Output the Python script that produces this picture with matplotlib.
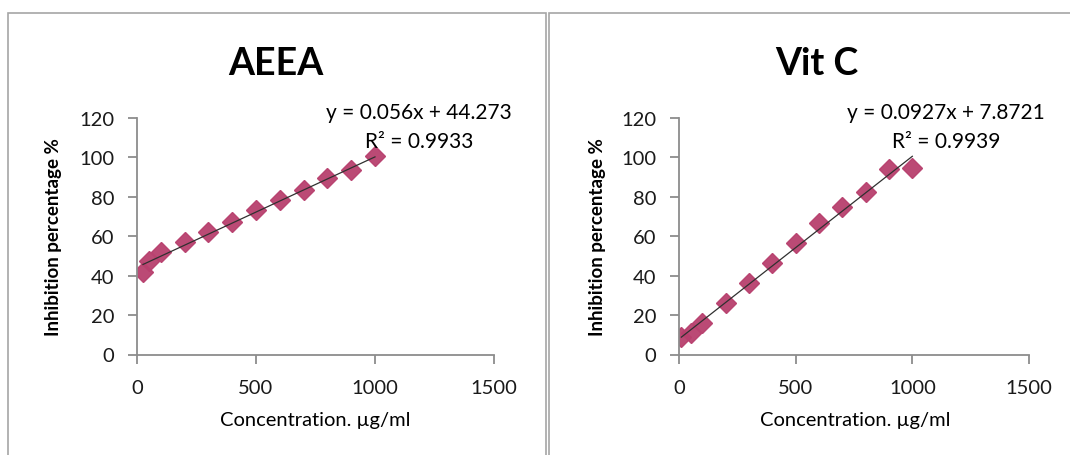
import matplotlib
matplotlib.use("Agg")
import matplotlib.pyplot as plt
from matplotlib.patches import Rectangle
import numpy as np

plt.rcParams['font.family'] = ['Lato', 'DejaVu Sans']

# ---- data ----
titles = ["AEEA", "Vit C"]
aeea_x = [25, 50, 100, 200, 300, 400, 500, 600, 700, 800, 900, 1000]
aeea_y = [41.8, 47.5, 52.0, 57.0, 62.4, 67.4, 73.4, 78.4, 83.5, 89.4, 93.8, 100.8]
vitc_x = [10, 50, 100, 200, 300, 400, 500, 600, 700, 800, 900, 1000]
vitc_y = [8.9, 11.0, 16.2, 26.3, 36.4, 46.4, 56.7, 66.6, 74.7, 82.6, 94.1, 94.4]
slopes = [0.056, 0.0927]
intercepts = [44.273, 7.8721]
eq_labels = ["y = 0.056x + 44.273", "y = 0.0927x + 7.8721"]
r2_labels = ["R² = 0.9933", "R² = 0.9939"]
xticks = [0, 500, 1000, 1500]
yticks = [0, 20, 40, 60, 80, 100, 120]
xlabel = "Concentration. µg/ml"
ylabel = "Inhibition percentage %"

W, H = 1070, 456
fig = plt.figure(figsize=(W / 100, H / 100), dpi=100)

def fx(px):
    return px / W

def fy(py):
    return 1 - py / H

# panel borders
for (x0, x1) in [(8, 546), (549, 1080)]:
    fig.patches.append(Rectangle((fx(x0), fy(470)), fx(x1 - x0), (470 - 14) / H,
                                 transform=fig.transFigure, fill=False,
                                 edgecolor='#a6a6a6', linewidth=1.2))

marker_color = '#B8406E'
axes_px = [(137, 494), (679, 1029)]
title_cx = [276, 817]
eq_cx = [419, 946]
ylab_cx = [54, 597]
xlab_cx = [315, 855]

datasets = [(aeea_x, aeea_y), (vitc_x, vitc_y)]

for i in range(2):
    l, r = axes_px[i]
    ax = fig.add_axes([fx(l), fy(355.5), fx(r - l), (355.5 - 119) / H])
    xs, ys = datasets[i]
    xline = np.array([min(xs), max(xs)])
    ax.plot(xline, slopes[i] * xline + intercepts[i], color='#303030', lw=0.9, zorder=3)
    ax.plot(xs, ys, linestyle='none', marker='D', markersize=10,
            color=marker_color, markeredgecolor=marker_color, alpha=0.95, zorder=2)
    ax.set_xlim(0, 1500)
    ax.set_ylim(0, 120)
    ax.set_xticks(xticks)
    ax.set_yticks(yticks)
    for s in ['top', 'right']:
        ax.spines[s].set_visible(False)
    for s in ['left', 'bottom']:
        ax.spines[s].set_color('#8c8c8c')
        ax.spines[s].set_linewidth(1.3)
    ax.tick_params(axis='both', colors='#8c8c8c', labelcolor='#1a1a1a',
                   labelsize=14.5, width=1.3, length=6.5)
    ax.tick_params(axis='x', pad=11)
    ax.tick_params(axis='y', pad=10)
    ax.set_facecolor('none')

    fig.text(fx(title_cx[i]), fy(64), titles[i], fontsize=27, fontweight='bold',
             ha='center', va='center')
    fig.text(fx(eq_cx[i]), fy(113), eq_labels[i], fontsize=15, ha='center', va='center')
    fig.text(fx(eq_cx[i]), fy(142), r2_labels[i], fontsize=15, ha='center', va='center')
    fig.text(fx(ylab_cx[i]), fy(237), ylabel, fontsize=13.5, fontweight='bold',
             rotation=90, ha='center', va='center')
    fig.text(fx(xlab_cx[i]), fy(421), xlabel, fontsize=14.5, ha='center', va='center')

fig.savefig("out.png", dpi=100, facecolor='white')
